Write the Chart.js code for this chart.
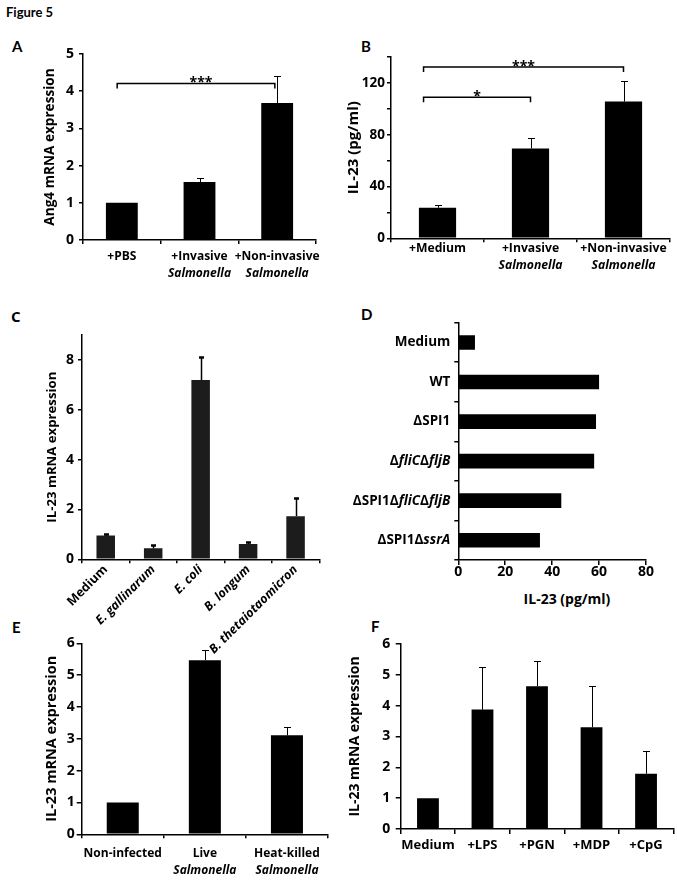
<!DOCTYPE html>
<html>
<head>
<meta charset="utf-8">
<script src="https://cdn.jsdelivr.net/npm/chart.js@4.4.0/dist/chart.umd.min.js"></script>
<style>
  html, body { margin: 0; padding: 0; background: #fff; }
  body { width: 677px; height: 883px; position: relative; overflow: hidden; font-family: Lato, sans-serif; }
  canvas { position: absolute; }
  .lbl { position: absolute; font-weight: bold; color: #000; line-height: 1; white-space: nowrap; }
</style>
</head>
<body>
<div class="lbl" style="left:6px;top:6px;font-size:13px">Figure 5</div>
<div class="lbl" style="left:12px;top:39px;font-size:15px">A</div>
<div class="lbl" style="left:361px;top:39px;font-size:15px">B</div>
<div class="lbl" style="left:11px;top:309px;font-size:15px;font-family:'Open Sans'">C</div>
<div class="lbl" style="left:361px;top:307px;font-size:15px">D</div>
<div class="lbl" style="left:12px;top:620px;font-size:15px">E</div>
<div class="lbl" style="left:371px;top:619px;font-size:15px">F</div>
<div class="lbl" style="left:517px;top:592px;width:100px;text-align:center;font-size:14px;font-family:'Open Sans'">IL-23 (pg/ml)</div>

<canvas id="chartA"></canvas>
<canvas id="chartB"></canvas>
<canvas id="chartC"></canvas>
<canvas id="chartD"></canvas>
<canvas id="chartE"></canvas>
<canvas id="chartF"></canvas>

<script>
// Données ('*' = italique, '\n' = seconde ligne)
const catsA = ['+PBS', '+Invasive\n*Salmonella*', '+Non-invasive\n*Salmonella*'];
const valsA = [1.0, 1.56, 3.68];
const errA = [0, 0.1, 0.74];
const sigA = [{ from: -0.06, to: 1.97, y: 4.21, text: '***' }];

const catsB = ['+Medium', '+Invasive\n*Salmonella*', '+Non-invasive\n*Salmonella*'];
const valsB = [23.6, 69.4, 105.6];
const errB = [2.1, 8.1, 15.6];
const sigB = [
  { from: -0.15, to: 2, y: 132.3, text: '***' },
  { from: -0.15, to: 1, y: 108.9, text: '*' }
];

const catsC = ['Medium', 'E. gallinarum', 'E. coli', 'B. longum', 'B. thetaiotaomicron'];
const valsC = [0.95, 0.44, 7.19, 0.61, 1.73];
const errC = [0.08, 0.15, 0.93, 0.1, 0.74];

const catsD = ['Medium', 'WT', 'ΔSPI1', 'Δ*fliC*Δ*fljB*', 'ΔSPI1Δ*fliC*Δ*fljB*', 'ΔSPI1Δ*ssrA*'];
const valsD = [7.1, 60.0, 58.7, 57.9, 43.9, 34.8];

const catsE = ['Non-infected', 'Live\n*Salmonella*', 'Heat-killed\n*Salmonella*'];
const valsE = [1.0, 5.47, 3.11];
const errE = [0, 0.32, 0.25];

const catsF = ['Medium', '+LPS', '+PGN', '+MDP', '+CpG'];
const valsF = [1.0, 3.87, 4.63, 3.3, 1.79];
const errF = [0, 1.37, 0.81, 1.33, 0.74];

const FAM = 'Open Sans';

// Texte mixte normal / italique
function drawRich(ctx, str, x, y, align, size, lh) {
  str.split('\n').forEach((line, k) => {
    const segs = line.split('*').map((t, j) => ({ t, it: j % 2 === 1 })).filter(s => s.t);
    const fontOf = s => (s.it ? 'italic ' : '') + 'bold ' + size + 'px "' + FAM + '"';
    let w = 0;
    segs.forEach(s => { ctx.font = fontOf(s); w += ctx.measureText(s.t).width; });
    let cx = align === 'center' ? x - w / 2 : (align === 'right' ? x - w : x);
    segs.forEach(s => {
      ctx.font = fontOf(s);
      ctx.fillText(s.t, cx, y + k * lh);
      cx += ctx.measureText(s.t).width;
    });
  });
}

// Barres d'erreur, crochets de significativité, étiquettes riches
function decor(spec) {
  return {
    id: 'decor',
    afterDatasetsDraw(chart) {
      const ctx = chart.ctx;
      const horiz = chart.options.indexAxis === 'y';
      const cat = horiz ? chart.scales.y : chart.scales.x;
      const val = horiz ? chart.scales.x : chart.scales.y;
      const area = chart.chartArea;
      const vals = chart.data.datasets[0].data;
      const meta = chart.getDatasetMeta(0);
      ctx.save();
      ctx.strokeStyle = '#000';
      ctx.fillStyle = '#000';
      if (spec.err) {
        spec.err.forEach((e, i) => {
          if (!e) return;
          const x = Math.round(meta.data[i].x) + 0.5;
          const y0 = val.getPixelForValue(vals[i]);
          const y1 = Math.round(val.getPixelForValue(vals[i] + e)) + 0.5;
          ctx.lineWidth = spec.errLine || 1;
          ctx.beginPath(); ctx.moveTo(x, y0); ctx.lineTo(x, y1); ctx.stroke();
          ctx.lineWidth = spec.capLine || 1;
          ctx.beginPath(); ctx.moveTo(x - spec.cap / 2, y1); ctx.lineTo(x + spec.cap / 2, y1); ctx.stroke();
        });
      }
      if (spec.sig) {
        spec.sig.forEach(b => {
          const x1 = cat.getPixelForValue(b.from);
          const x2 = cat.getPixelForValue(b.to);
          const y = val.getPixelForValue(b.y);
          ctx.lineWidth = 1.5;
          ctx.beginPath();
          ctx.moveTo(x1, y + 5); ctx.lineTo(x1, y); ctx.lineTo(x2, y); ctx.lineTo(x2, y + 5);
          ctx.stroke();
          ctx.font = 'bold 14px "' + FAM + '"';
          ctx.textAlign = 'center';
          ctx.textBaseline = 'alphabetic';
          ctx.fillText(b.text, (x1 + x2) / 2 + (spec.sigShift || 0), y + 4);
        });
      }
      if (spec.labels) {
        const L = spec.labels;
        ctx.textAlign = 'left';
        ctx.textBaseline = 'middle';
        chart.data.labels.forEach((lab, i) => {
          const p = cat.getPixelForValue(i);
          if (horiz) drawRich(ctx, lab, area.left - L.offset, p, 'right', L.size, L.lh);
          else drawRich(ctx, lab, p, area.bottom + L.offset, 'center', L.size, L.lh);
        });
      }
      ctx.restore();
    }
  };
}

const axisLine = { display: true, color: '#000', width: 1.5 };
function gridTicks(len) {
  return { display: true, drawOnChartArea: false, drawTicks: true, tickLength: len, color: '#000', lineWidth: 1.5 };
}

function place(id, box) {
  const cv = document.getElementById(id);
  cv.width = box.w; cv.height = box.h;
  cv.style.left = box.x + 'px'; cv.style.top = box.y + 'px';
  cv.style.width = box.w + 'px'; cv.style.height = box.h + 'px';
  return cv;
}

function barChart(id, box, plot, o) {
  const cv = place(id, box);
  const horiz = !!o.horiz;
  const catAxis = {
    grid: gridTicks(o.catTick || 4),
    border: axisLine,
    ticks: o.catTicks || { display: false },
    afterFit: horiz ? s => { s.width = plot.l - box.x; } : s => { s.height = box.y + box.h - plot.b; }
  };
  const valAxis = {
    min: 0, max: o.max,
    grid: gridTicks(o.valTick || 4),
    border: axisLine,
    ticks: Object.assign({ stepSize: o.step, color: '#000', font: { family: FAM, size: 13.5, weight: 'bold' } }, o.valTicks || {}),
    title: o.title || { display: false },
    afterFit: horiz ? s => { s.height = box.y + box.h - plot.b; } : s => { s.width = plot.l - box.x; }
  };
  return new Chart(cv, {
    type: 'bar',
    data: {
      labels: o.labels,
      datasets: [{ data: o.data, backgroundColor: o.color || '#000', barPercentage: o.bar, categoryPercentage: 1 }]
    },
    options: {
      responsive: false,
      animation: false,
      indexAxis: horiz ? 'y' : 'x',
      layout: { padding: { left: 0, top: plot.t - box.y, right: box.x + box.w - plot.r, bottom: 0 } },
      plugins: { legend: { display: false }, tooltip: { enabled: false } },
      scales: horiz ? { y: catAxis, x: valAxis } : { x: catAxis, y: valAxis }
    },
    plugins: [decor(o.decor || {})]
  });
}

function yTitle(text, size, pad) {
  return { display: true, text, color: '#000', padding: { top: pad, bottom: 0 },
           font: { family: FAM, size, weight: 'bold', lineHeight: 1.2 } };
}

// A
barChart('chartA', { x: 0, y: 40, w: 335, h: 250 }, { l: 83, t: 54, r: 316, b: 240 }, {
  labels: catsA, data: valsA, max: 5, step: 1, bar: 0.41,
  valTicks: { padding: 5, font: { family: FAM, size: 14, weight: 'bold' } },
  title: yTitle('Ang4 mRNA expression', 13.6, 41.8),
  decor: { err: errA, cap: 7, sig: sigA, sigShift: 5, labels: { offset: 17, lh: 16.5, size: 12 } }
});

// B
barChart('chartB', { x: 340, y: 40, w: 337, h: 250 }, { l: 391, t: 57, r: 670, b: 238.3 }, {
  labels: catsB, data: valsB, max: 140, step: 20, bar: 0.4,
  valTicks: { padding: 2, font: { family: FAM, size: 13.5, weight: 'bold' },
              callback: v => (v % 40 === 0 ? v : '') },
  title: yTitle('IL-23 (pg/ml)', 15, 4.3),
  decor: { err: errB, cap: 7, sig: sigB, labels: { offset: 10.7, lh: 17, size: 12.2 } }
});

// C
barChart('chartC', { x: 0, y: 320, w: 335, h: 335 }, { l: 82, t: 335, r: 319.3, b: 559.3 }, {
  labels: catsC, data: valsC, max: 9, step: 2, bar: 0.39, color: '#1c1c1c',
  valTicks: { padding: 4, includeBounds: false, font: { family: FAM, size: 14, weight: 'bold' } },
  catTicks: {
    display: true, color: '#000', minRotation: 45, maxRotation: 45, autoSkip: false, padding: -1,
    font: c => ({ family: FAM, size: 12.5, weight: 'bold', style: c.index === 0 ? 'normal' : 'italic' })
  },
  title: yTitle('IL-23 mRNA expression', 13.2, 44),
  decor: { err: errC, cap: 5, errLine: 1.5, capLine: 2.5 }
});

// D
barChart('chartD', { x: 340, y: 300, w: 337, h: 290 }, { l: 458.3, t: 322.7, r: 646, b: 560 }, {
  horiz: true, labels: catsD, data: valsD, max: 80, step: 20, bar: 0.37, valTick: 5,
  valTicks: { padding: 0, font: { family: FAM, size: 14, weight: 'bold', lineHeight: 1 } },
  decor: { labels: { offset: 8, lh: 16, size: 13.5 } }
});

// E
barChart('chartE', { x: 0, y: 630, w: 335, h: 253 }, { l: 81.7, t: 643.3, r: 328, b: 834.3 }, {
  labels: catsE, data: valsE, max: 6, step: 1, bar: 0.39, valTick: 5,
  valTicks: { padding: 2, font: { family: FAM, size: 14, weight: 'bold' } },
  title: yTitle('IL-23 mRNA expression', 14.5, 43),
  decor: { err: errE, cap: 7, labels: { offset: 19.2, lh: 17.5, size: 12 } }
});

// F
barChart('chartF', { x: 340, y: 630, w: 337, h: 253 }, { l: 400.7, t: 643.3, r: 673.3, b: 829 }, {
  labels: catsF, data: valsF, max: 6, step: 1, bar: 0.4, valTick: 5, catTick: 5,
  valTicks: { padding: 5.5, font: { family: FAM, size: 14, weight: 'bold' } },
  catTicks: { display: true, color: '#000', maxRotation: 0, autoSkip: false, padding: 3,
              font: { family: FAM, size: 13, weight: 'bold' } },
  title: yTitle('IL-23 mRNA expression', 14, 6.6),
  decor: { err: errF, cap: 7 }
});
</script>
</body>
</html>
